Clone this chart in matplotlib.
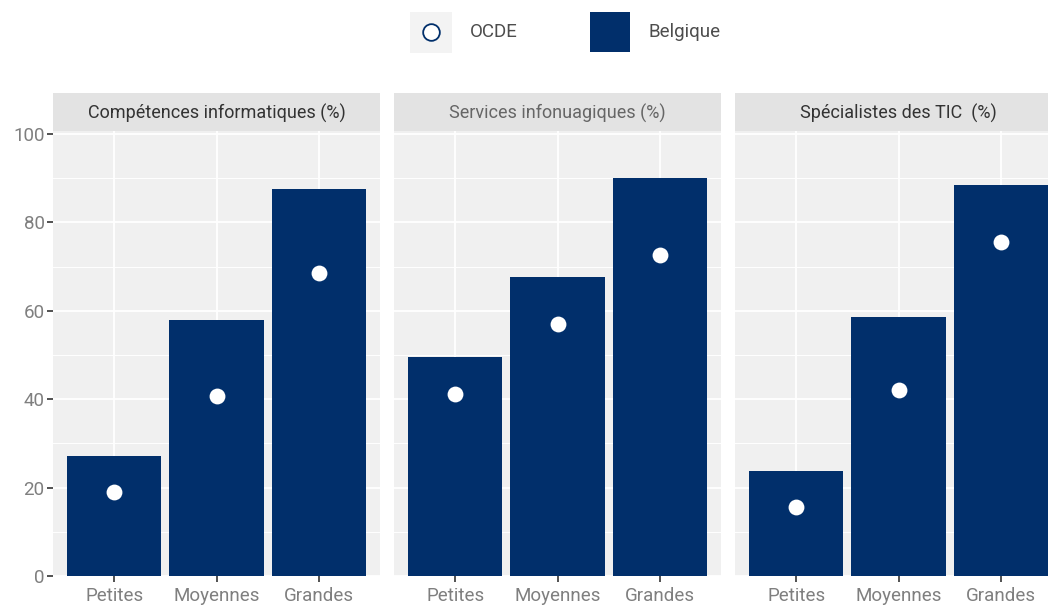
import matplotlib.pyplot as plt
from matplotlib.patches import Rectangle
from matplotlib.lines import Line2D
from matplotlib import font_manager

names = {f.name for f in font_manager.fontManager.ttflist}
narrow = 'Liberation Sans Narrow' if 'Liberation Sans Narrow' in names else 'Roboto'
plt.rcParams['font.family'] = [narrow, 'DejaVu Sans']

categories = ['Petites', 'Moyennes', 'Grandes']
panel_titles = ['Compétences informatiques (%)', 'Services infonuagiques (%)', 'Spécialistes des TIC  (%)']
belgique = [
    [27.1, 57.9, 87.6],
    [49.5, 67.6, 90.0],
    [23.8, 58.6, 88.5],
]
ocde = [
    [19.0, 40.7, 68.6],
    [41.2, 57.0, 72.6],
    [15.6, 42.1, 75.6],
]
title_colors = ['#333333', '#666666', '#333333']

BAR = '#012F6B'
W, H = 1048, 605
fig = plt.figure(figsize=(W / 100, H / 100), dpi=100)

panel_left = [53, 394, 735]
panel_w = 327
top, bottom = 131, 576
strip_top = 93

for i in range(3):
    ax = fig.add_axes([panel_left[i] / W, 1 - bottom / H, panel_w / W, (bottom - top) / H])
    ax.set_facecolor('#F0F0F0')
    x = range(1, 4)
    ax.set_xlim(0.4, 3.6)
    ax.set_ylim(0, 100.7)
    ax.set_yticks([0, 20, 40, 60, 80, 100])
    ax.set_yticks([10, 30, 50, 70, 90], minor=True)
    ax.grid(True, which='major', color='white', linewidth=1.3)
    ax.grid(True, which='minor', axis='y', color='white', linewidth=0.7)
    ax.set_axisbelow(True)
    ax.bar(x, belgique[i], width=0.92, color=BAR, zorder=2)
    ax.scatter(x, ocde[i], s=130, color='white', zorder=3, linewidths=0)
    ax.set_xticks(list(x))
    ax.set_xticklabels(categories, fontsize=13.5, color='#7F7F7F')
    for s in ax.spines.values():
        s.set_visible(False)
    ax.tick_params(axis='x', length=4, width=1.2, color='#333333', pad=4)
    ax.tick_params(axis='y', which='minor', length=0)
    if i == 0:
        ax.tick_params(axis='y', length=4, width=1.2, color='#333333', labelsize=13.5, labelcolor='#7F7F7F', pad=2)
    else:
        ax.tick_params(axis='y', length=0, labelleft=False)
    # strip
    fig.patches.append(Rectangle((panel_left[i] / W, 1 - top / H), panel_w / W, (top - strip_top) / H,
                                 transform=fig.transFigure, facecolor='#E3E3E3', edgecolor='none'))
    fig.text((panel_left[i] + panel_w / 2) / W, 1 - (top + strip_top + 3) / 2 / H, panel_titles[i],
             ha='center', va='center', fontsize=13, color=title_colors[i])

# legend
fig.patches.append(Rectangle((410 / W, 1 - 53 / H), 42 / W, 41 / H, transform=fig.transFigure,
                             facecolor='#F3F3F3', edgecolor='none'))
fig.lines.append(Line2D([431 / W], [1 - 32 / H], transform=fig.transFigure, marker='o', markersize=12,
                        markerfacecolor='white', markeredgecolor=BAR, markeredgewidth=1.3, linestyle='none'))
fig.text(470 / W, 1 - 32 / H, 'OCDE', ha='left', va='center', fontsize=13.5, color='#4D4D4D')
fig.patches.append(Rectangle((590 / W, 1 - 52 / H), 40 / W, 40 / H, transform=fig.transFigure,
                             facecolor=BAR, edgecolor='none'))
fig.text(648 / W, 1 - 32 / H, 'Belgique', ha='left', va='center', fontsize=13.5, color='#4D4D4D')

fig.savefig('out.png', dpi=100)
